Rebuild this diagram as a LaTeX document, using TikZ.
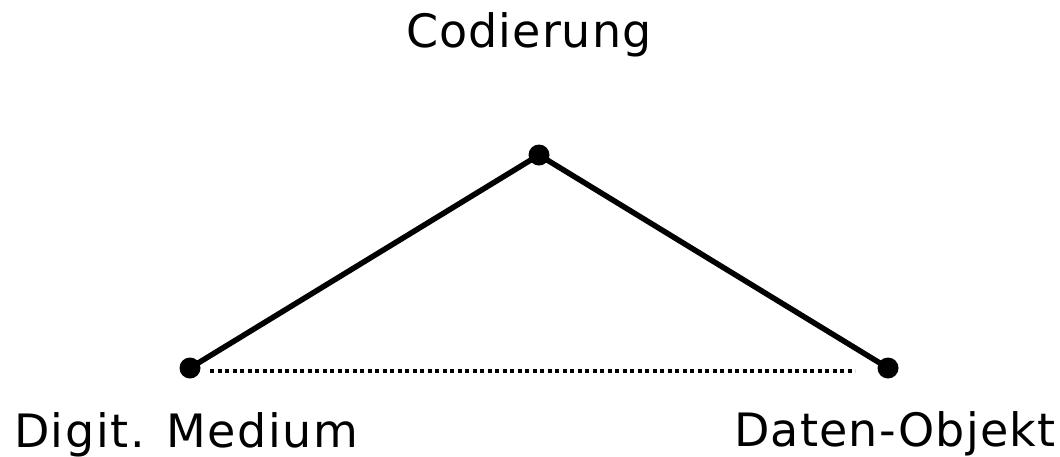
\documentclass[tikz,border=0pt]{standalone}
\usepackage{fontspec}
\setmainfont{DejaVu Sans}
\begin{document}
\begin{tikzpicture}[x=1pt,y=-1pt,
  pt/.style={circle,fill=black,inner sep=0pt,minimum size=21pt},
  lbl/.style={anchor=base,inner sep=0pt,font=\fontsize{46}{55}\selectfont},
  edge/.style={line width=5.5pt},
  dotline/.style={line width=4pt,dash pattern=on 4pt off 3.5pt}]
\useasboundingbox (0,0) rectangle (1060,456);
\node[pt] (top) at (539,155) {};
\node[pt] (left) at (190,368) {};
\node[pt] (right) at (888,368) {};
\coordinate (d1) at (210,371);
\coordinate (d2) at (855,371);
\draw[edge] (left.center) -- (top.center) -- (right.center);
\draw[dotline] (d1) -- (d2);
\node[lbl] (cod) at (529,47) {\addfontfeatures{LetterSpace=2.2}Codierung};
\node[lbl] (dig) at (186,447) {\addfontfeatures{LetterSpace=3.4}Digit. Medium};
\node[lbl] (dat) at (895,446) {\addfontfeatures{LetterSpace=2.7}Daten-Objekt};
\end{tikzpicture}
\end{document}
